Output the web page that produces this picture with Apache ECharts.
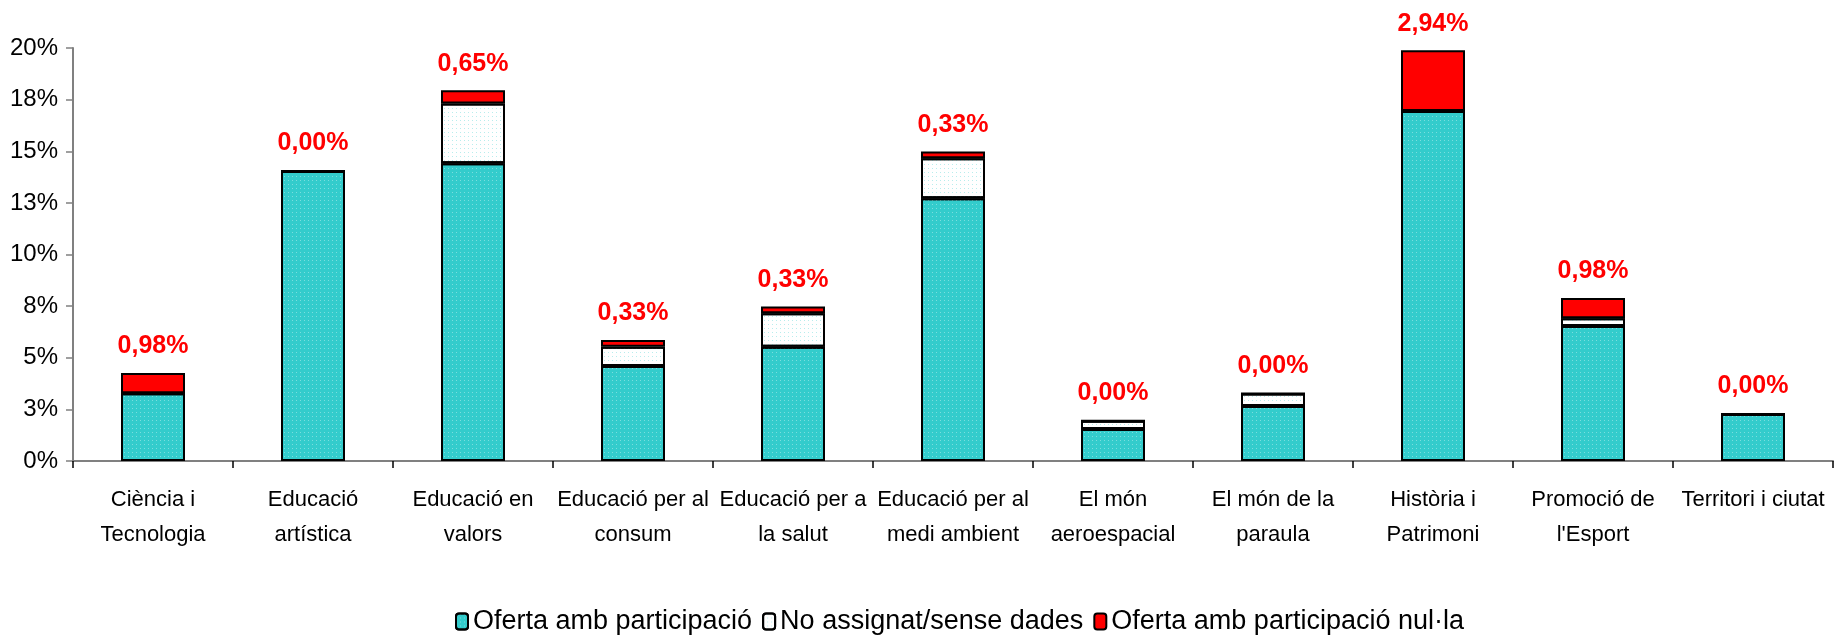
<!DOCTYPE html>
<html>
<head>
<meta charset="utf-8">
<script src="https://cdn.jsdelivr.net/npm/echarts@6/dist/echarts.min.js"></script>
<style>
html, body { margin: 0; padding: 0; background: #fff; }
#chart { width: 1834px; height: 637px; }
</style>
</head>
<body>
<div id="chart"></div>
<script>
var categories = ['Ciència i\nTecnologia', 'Educació\nartística', 'Educació en\nvalors', 'Educació per al\nconsum',
    'Educació per a\nla salut', 'Educació per al\nmedi ambient', 'El món\naeroespacial', 'El món de la\nparaula',
    'Història i\nPatrimoni', 'Promoció de\nl\'Esport', 'Territori i ciutat'];
var ofertaValues = [3.28, 14.04, 14.42, 4.60, 5.53, 12.72, 1.55, 2.66, 16.95, 6.54, 2.28];
var noAssignatValues = [0, 0, 2.89, 0.93, 1.62, 1.94, 0.40, 0.61, 0, 0.37, 0];
var nullaValues = [0.98, 0, 0.65, 0.33, 0.33, 0.33, 0, 0, 2.94, 0.98, 0];

var font = "'Liberation Sans Narrow', 'Liberation Sans', Arial, sans-serif";

var myChart = echarts.init(document.getElementById('chart'));

// bar fill + black outline, optional dotted texture like the original
var barStyle = function (color, dotColor) {
    var s = { color: color, borderColor: '#000', borderWidth: 2 };
    if (dotColor) {
        s.decal = { symbol: 'rect', symbolSize: 1, color: dotColor, dashArrayX: [1, 3], dashArrayY: [1, 3], rotation: 0 };
    }
    return s;
};

var option = {
    animation: false,
    textStyle: { fontFamily: font, color: '#000' },
    legend: {
        left: 450,
        top: 603,
        itemWidth: 12,
        itemHeight: 16,
        itemGap: 10,
        textStyle: { fontFamily: font, fontSize: 27, color: '#000' },
        data: ['Oferta amb participació', 'No assignat/sense dades', 'Oferta amb participació nul·la']
    },
    grid: { left: 73, right: 1, top: 48, bottom: 176 },
    xAxis: {
        type: 'category',
        data: categories,
        axisLine: { lineStyle: { color: '#808080', width: 2 } },
        axisTick: { show: true, length: 7, lineStyle: { color: '#000', width: 1.5 } },
        axisLabel: { fontFamily: font, fontSize: 22, lineHeight: 35, color: '#000', margin: 21, interval: 0 }
    },
    yAxis: {
        type: 'value',
        min: 0,
        max: 20,
        interval: 2.5,
        splitLine: { show: false },
        axisLine: { show: true, lineStyle: { color: '#808080', width: 2 } },
        axisTick: { show: true, length: 7, lineStyle: { color: '#808080', width: 1.5 } },
        axisLabel: {
            fontFamily: font, fontSize: 24, color: '#000', margin: 15,
            formatter: function (v) { return Math.round(v) + '%'; }
        }
    },
    series: [
        {
            name: 'Oferta amb participació',
            type: 'bar',
            stack: 'total',
            barWidth: 64,
            itemStyle: barStyle('#33CCCC', 'rgba(255,255,255,0.35)'),
            data: ofertaValues
        },
        {
            name: 'No assignat/sense dades',
            type: 'bar',
            stack: 'total',
            itemStyle: barStyle('#FFFFFF', 'rgba(51,204,204,0.35)'),
            data: noAssignatValues
        },
        {
            name: 'Oferta amb participació nul·la',
            type: 'bar',
            stack: 'total',
            itemStyle: barStyle('#FF0000'),
            label: {
                show: true,
                position: 'top',
                distance: 14,
                fontFamily: font,
                fontSize: 25,
                fontWeight: 'bold',
                color: '#FF0000',
                formatter: function (p) { return p.value.toFixed(2).replace('.', ',') + '%'; }
            },
            data: nullaValues
        }
    ]
};

myChart.setOption(option);
</script>
</body>
</html>
